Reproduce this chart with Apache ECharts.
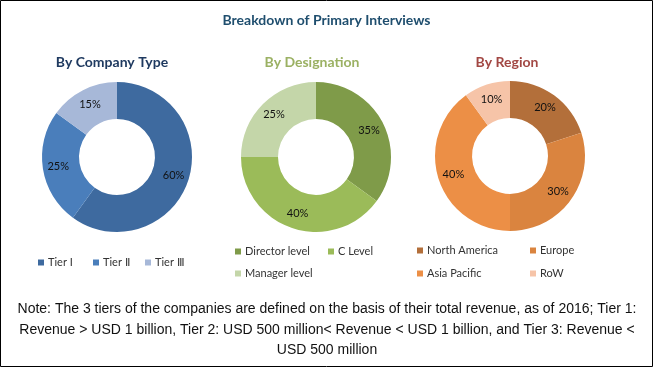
<!DOCTYPE html>
<html>
<head>
<meta charset="utf-8">
<script src="https://cdn.jsdelivr.net/npm/echarts@6/dist/echarts.min.js"></script>
<style>
html,body{margin:0;padding:0;background:#fff;}
#c{width:653px;height:367px;}
</style>
</head>
<body>
<div id="c"></div>
<script>
var companyTypes = ['Tier I', 'Tier Ⅱ', 'Tier Ⅲ'];
var companyValues = [60, 25, 15];
var designations = ['Director level', 'C Level', 'Manager level'];
var designationValues = [35, 40, 25];
var regions = ['North America', 'Europe', 'Asia Pacific', 'RoW'];
var regionValues = [20, 30, 40, 10];

var companyColors = ['#3E6A9F', '#4A7EBB', '#A7B8D8'];
var designationColors = ['#7F9B49', '#9BBB59', '#C4D6A9'];
var regionColors = ['#B36F3A', '#DA843F', '#EC8F46', '#F6C4A8'];

function toData(names, values) {
  return names.map(function (n, i) { return { name: n, value: values[i] }; });
}

var chart = echarts.init(document.getElementById('c'), null, { renderer: 'canvas' });

var labelStyle = { show: true, position: 'inside', formatter: '{c}%', color: '#111', fontSize: 11, fontFamily: 'Lato, sans-serif' };

function pie(center, names, values, colors) {
  return {
    type: 'pie',
    center: center,
    radius: [38, 75],
    startAngle: 90,
    clockwise: true,
    avoidLabelOverlap: false,
    silent: true,
    animation: false,
    color: colors,
    itemStyle: { borderWidth: 0 },
    label: labelStyle,
    labelLine: { show: false },
    data: toData(names, values)
  };
}

var legendText = { color: '#333', fontSize: 11, fontFamily: 'Lato, sans-serif', padding: [0, 0, 0, -1] };
function legendItem(left, top, name) {
  return {
    left: left, top: top, padding: 0, orient: 'horizontal', itemWidth: 6, itemHeight: 6,
    icon: 'rect', data: [name], selectedMode: false, textStyle: legendText
  };
}

chart.setOption({
  animation: false,
  title: [
    { text: 'Breakdown of Primary Interviews', left: 'center', top: 13, padding: 0,
      textStyle: { fontSize: 14, fontWeight: 'bold', color: '#1F4E6E', fontFamily: 'Lato, sans-serif' } },
    { text: 'By Company Type', left: 112, top: 55, padding: 0, textAlign: 'center',
      textStyle: { fontSize: 14, fontWeight: 'bold', color: '#1F3A60', fontFamily: 'Lato, sans-serif' } },
    { text: 'By Designation', left: 312, top: 55, padding: 0, textAlign: 'center',
      textStyle: { fontSize: 14, fontWeight: 'bold', color: '#9BB163', fontFamily: 'Lato, sans-serif' } },
    { text: 'By Region', left: 507, top: 55, padding: 0, textAlign: 'center',
      textStyle: { fontSize: 14, fontWeight: 'bold', color: '#A24743', fontFamily: 'Lato, sans-serif' } },
    { text: 'Note: The 3 tiers of the companies are defined on the basis of their total revenue, as of 2016; Tier 1:\nRevenue > USD 1 billion, Tier 2: USD 500 million< Revenue < USD 1 billion, and Tier 3: Revenue <\nUSD 500 million',
      left: 327, top: 299, padding: 0, textAlign: 'center',
      textStyle: { fontSize: 14, fontWeight: 'normal', color: '#111', lineHeight: 20.5, align: 'center', fontFamily: '"Liberation Sans", Arial, sans-serif' } }
  ],
  legend: [
    legendItem(38, 257, companyTypes[0]),
    legendItem(93, 257, companyTypes[1]),
    legendItem(145, 257, companyTypes[2]),
    legendItem(235, 246, designations[0]),
    legendItem(328, 246, designations[1]),
    legendItem(235, 268, designations[2]),
    legendItem(417, 245, regions[0]),
    legendItem(530, 245, regions[1]),
    legendItem(417, 268, regions[2]),
    legendItem(530, 268, regions[3])
  ],
  graphic: [
    { type: 'rect', shape: { x: 0.5, y: 0.5, width: 652, height: 366 }, style: { fill: 'none', stroke: '#000', lineWidth: 1 }, silent: true }
  ],
  series: [
    pie([117, 157], companyTypes, companyValues, companyColors),
    pie([316, 157], designations, designationValues, designationColors),
    pie([510, 156], regions, regionValues, regionColors)
  ]
});
</script>
</body>
</html>
